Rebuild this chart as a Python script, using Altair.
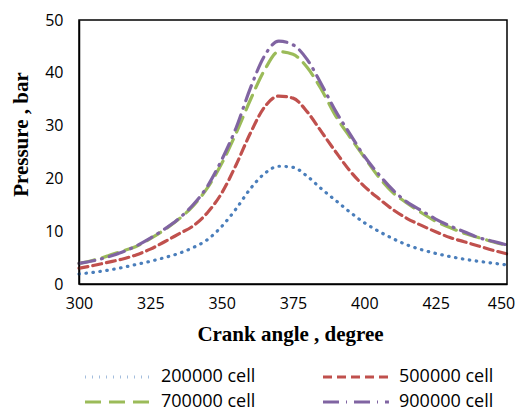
import altair as alt
import pandas as pd

angles = list(range(300, 455, 5))
series_names = ["200000 cell", "500000 cell", "700000 cell", "900000 cell"]
p200k = [1.9, 2.2, 2.6, 3.1, 3.7, 4.3, 5.0, 5.8, 6.9, 8.4, 10.9, 14.2, 18.0, 20.9, 22.3, 22.1,
         20.4, 18.0, 15.8, 13.6, 11.6, 10.0, 8.6, 7.4, 6.5, 5.8, 5.2, 4.7, 4.3, 3.95, 3.6]
p500k = [3.0, 3.5, 4.1, 4.7, 5.5, 6.6, 8.0, 9.5, 11.0, 13.5, 17.2, 22.5, 28.5, 33.5, 35.6, 35.2,
         32.6, 28.8, 25.0, 21.4, 18.5, 16.2, 14.1, 12.4, 11.1, 9.9, 8.8, 8.0, 7.2, 6.4, 5.7]
p700k = [3.9, 4.5, 5.3, 6.2, 7.1, 8.6, 10.3, 12.3, 14.8, 18.2, 22.8, 28.5, 34.8, 40.5, 44.0, 43.5,
         41.0, 36.8, 31.8, 27.8, 24.0, 20.3, 17.3, 15.3, 13.5, 11.9, 10.7, 9.6, 8.8, 8.0, 7.3]
p900k = [3.9, 4.4, 5.1, 6.0, 7.2, 8.7, 10.4, 12.4, 15.0, 18.5, 23.5, 29.5, 37.0, 43.2, 46.0, 45.3,
         42.5, 37.8, 32.7, 28.4, 24.2, 20.8, 17.8, 15.5, 13.9, 12.3, 11.0, 9.9, 8.8, 8.1, 7.4]

x_domain = [300, 450]
y_domain = [0, 50]

rows = []
for name, vals in zip(series_names, [p200k, p500k, p700k, p900k]):
    for a, v in zip(angles, vals):
        rows.append({"angle": a, "pressure": v, "series": name})
df = pd.DataFrame(rows)

colors = ["#4A7EBB", "#C0504D", "#9BBB59", "#8064A2"]
dashes = [[0.5, 6.5], [9, 5], [16, 8], [16, 7, 1, 7]]

xs = alt.Scale(domain=x_domain, nice=False)
ys = alt.Scale(domain=y_domain, nice=False)

lines = alt.Chart(df).mark_line(strokeWidth=3.2, strokeCap="round", interpolate="monotone").encode(
    x=alt.X("angle:Q", scale=xs,
            axis=alt.Axis(values=[300, 325, 350, 375, 400, 425, 450], title="Crank angle , degree",
                          grid=False, ticks=False, labelPadding=11, titlePadding=12, labelFlush=False,
                          labelOffset={"condition": {"test": "datum.value == 450", "value": -6}, "value": 0},
                          titleX=211)),
    y=alt.Y("pressure:Q", scale=ys,
            axis=alt.Axis(values=[0, 10, 20, 30, 40, 50], title="Pressure , bar",
                          grid=False, ticks=False, labelPadding=16, titlePadding=13, labelFlush=False,
                          titleY=114)),
    color=alt.Color("series:N", scale=alt.Scale(domain=series_names, range=colors),
                    legend=alt.Legend(title=None, orient="none", legendX=-3, legendY=348,
                                      direction="horizontal",
                                      columns=2, columnPadding=58, rowPadding=7,
                                      symbolType="M0,0H10", symbolSize=174, symbolStrokeWidth=3.2,
                                      labelFont="Open Sans", labelFontSize=18, labelColor="#000",
                                      labelOffset=67)),
    strokeDash=alt.StrokeDash("series:N", scale=alt.Scale(domain=series_names, range=dashes)),
)

frame_df = pd.DataFrame({"x": [x_domain[0]], "x2": [x_domain[1]], "y": [y_domain[0]], "y2": [y_domain[1]]})
frame = alt.Chart(frame_df).mark_rect(fill=None, stroke="#000", strokeWidth=1.5).encode(
    x=alt.X("x:Q", scale=xs), x2="x2:Q", y=alt.Y("y:Q", scale=ys), y2="y2:Q"
)

chart = alt.layer(lines, frame).properties(
    width=428, height=264,
    autosize=alt.AutoSizeParams(type="none"),
    padding={"left": 71, "top": 12, "right": 8, "bottom": 130},
).configure_view(
    stroke=None
).configure_axis(
    domainColor="#000", domainWidth=1.5,
    labelFont="Open Sans", labelFontSize=16, labelColor="#000",
    titleFont="Liberation Serif", titleFontSize=21, titleFontWeight="bold", titleColor="#000",
)

chart.save("out.html", embed_options={"renderer": "svg", "actions": False})
